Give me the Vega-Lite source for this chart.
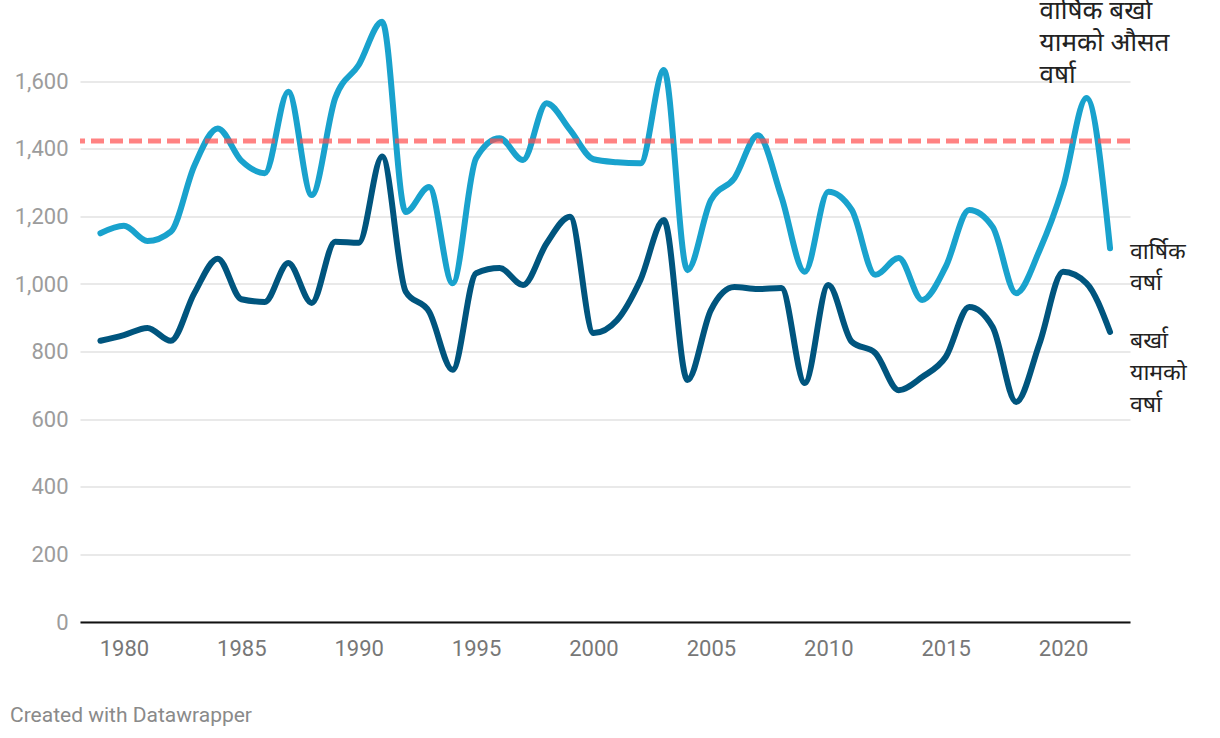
{
  "$schema": "https://vega.github.io/schema/vega-lite/v6.json",
  "width": 1050,
  "height": 608.4,
  "autosize": {"type": "none"},
  "padding": {"left": 80, "top": 13.6, "right": 90, "bottom": 116},
  "config": {"view": {"stroke": null}, "font": "Roboto"},
  "title": {
    "text": "Created with Datawrapper",
    "orient": "bottom",
    "anchor": "start",
    "frame": "group",
    "fontSize": 21,
    "fontWeight": "normal",
    "font": "Roboto",
    "color": "#8a8a8a",
    "offset": 46,
    "dx": -70
  },
  "datasets": {
    "rain": [
      {"year": 1979, "series": "वार्षिक वर्षा", "value": 1150}, {"year": 1979, "series": "बर्खा यामको वर्षा", "value": 832},
      {"year": 1980, "series": "वार्षिक वर्षा", "value": 1172}, {"year": 1980, "series": "बर्खा यामको वर्षा", "value": 849},
      {"year": 1981, "series": "वार्षिक वर्षा", "value": 1127}, {"year": 1981, "series": "बर्खा यामको वर्षा", "value": 870},
      {"year": 1982, "series": "वार्षिक वर्षा", "value": 1155}, {"year": 1982, "series": "बर्खा यामको वर्षा", "value": 832},
      {"year": 1983, "series": "वार्षिक वर्षा", "value": 1350}, {"year": 1983, "series": "बर्खा यामको वर्षा", "value": 973},
      {"year": 1984, "series": "वार्षिक वर्षा", "value": 1460}, {"year": 1984, "series": "बर्खा यामको वर्षा", "value": 1075},
      {"year": 1985, "series": "वार्षिक वर्षा", "value": 1365}, {"year": 1985, "series": "बर्खा यामको वर्षा", "value": 955},
      {"year": 1986, "series": "वार्षिक वर्षा", "value": 1328}, {"year": 1986, "series": "बर्खा यामको वर्षा", "value": 947},
      {"year": 1987, "series": "वार्षिक वर्षा", "value": 1569}, {"year": 1987, "series": "बर्खा यामको वर्षा", "value": 1062},
      {"year": 1988, "series": "वार्षिक वर्षा", "value": 1263}, {"year": 1988, "series": "बर्खा यामको वर्षा", "value": 944},
      {"year": 1989, "series": "वार्षिक वर्षा", "value": 1550}, {"year": 1989, "series": "बर्खा यामको वर्षा", "value": 1125},
      {"year": 1990, "series": "वार्षिक वर्षा", "value": 1648}, {"year": 1990, "series": "बर्खा यामको वर्षा", "value": 1122},
      {"year": 1991, "series": "वार्षिक वर्षा", "value": 1776}, {"year": 1991, "series": "बर्खा यामको वर्षा", "value": 1377},
      {"year": 1992, "series": "वार्षिक वर्षा", "value": 1213}, {"year": 1992, "series": "बर्खा यामको वर्षा", "value": 978},
      {"year": 1993, "series": "वार्षिक वर्षा", "value": 1287}, {"year": 1993, "series": "बर्खा यामको वर्षा", "value": 918},
      {"year": 1994, "series": "वार्षिक वर्षा", "value": 1002}, {"year": 1994, "series": "बर्खा यामको वर्षा", "value": 746},
      {"year": 1995, "series": "वार्षिक वर्षा", "value": 1372}, {"year": 1995, "series": "बर्खा यामको वर्षा", "value": 1032},
      {"year": 1996, "series": "वार्षिक वर्षा", "value": 1431}, {"year": 1996, "series": "बर्खा यामको वर्षा", "value": 1047},
      {"year": 1997, "series": "वार्षिक वर्षा", "value": 1367}, {"year": 1997, "series": "बर्खा यामको वर्षा", "value": 997},
      {"year": 1998, "series": "वार्षिक वर्षा", "value": 1535}, {"year": 1998, "series": "बर्खा यामको वर्षा", "value": 1120},
      {"year": 1999, "series": "वार्षिक वर्षा", "value": 1456}, {"year": 1999, "series": "बर्खा यामको वर्षा", "value": 1199},
      {"year": 2000, "series": "वार्षिक वर्षा", "value": 1369}, {"year": 2000, "series": "बर्खा यामको वर्षा", "value": 855},
      {"year": 2001, "series": "वार्षिक वर्षा", "value": 1360}, {"year": 2001, "series": "बर्खा यामको वर्षा", "value": 893},
      {"year": 2002, "series": "वार्षिक वर्षा", "value": 1357}, {"year": 2002, "series": "बर्खा यामको वर्षा", "value": 1012},
      {"year": 2003, "series": "वार्षिक वर्षा", "value": 1633}, {"year": 2003, "series": "बर्खा यामको वर्षा", "value": 1189},
      {"year": 2004, "series": "वार्षिक वर्षा", "value": 1041}, {"year": 2004, "series": "बर्खा यामको वर्षा", "value": 716},
      {"year": 2005, "series": "वार्षिक वर्षा", "value": 1248}, {"year": 2005, "series": "बर्खा यामको वर्षा", "value": 923},
      {"year": 2006, "series": "वार्षिक वर्षा", "value": 1313}, {"year": 2006, "series": "बर्खा यामको वर्षा", "value": 991},
      {"year": 2007, "series": "वार्षिक वर्षा", "value": 1440}, {"year": 2007, "series": "बर्खा यामको वर्षा", "value": 985},
      {"year": 2008, "series": "वार्षिक वर्षा", "value": 1259}, {"year": 2008, "series": "बर्खा यामको वर्षा", "value": 988},
      {"year": 2009, "series": "वार्षिक वर्षा", "value": 1036}, {"year": 2009, "series": "बर्खा यामको वर्षा", "value": 707},
      {"year": 2010, "series": "वार्षिक वर्षा", "value": 1273}, {"year": 2010, "series": "बर्खा यामको वर्षा", "value": 997},
      {"year": 2011, "series": "वार्षिक वर्षा", "value": 1219}, {"year": 2011, "series": "बर्खा यामको वर्षा", "value": 829},
      {"year": 2012, "series": "वार्षिक वर्षा", "value": 1027}, {"year": 2012, "series": "बर्खा यामको वर्षा", "value": 796},
      {"year": 2013, "series": "वार्षिक वर्षा", "value": 1077}, {"year": 2013, "series": "बर्खा यामको वर्षा", "value": 686},
      {"year": 2014, "series": "वार्षिक वर्षा", "value": 953}, {"year": 2014, "series": "बर्खा यामको वर्षा", "value": 725},
      {"year": 2015, "series": "वार्षिक वर्षा", "value": 1051}, {"year": 2015, "series": "बर्खा यामको वर्षा", "value": 784},
      {"year": 2016, "series": "वार्षिक वर्षा", "value": 1219}, {"year": 2016, "series": "बर्खा यामको वर्षा", "value": 932},
      {"year": 2017, "series": "वार्षिक वर्षा", "value": 1169}, {"year": 2017, "series": "बर्खा यामको वर्षा", "value": 873},
      {"year": 2018, "series": "वार्षिक वर्षा", "value": 973}, {"year": 2018, "series": "बर्खा यामको वर्षा", "value": 651},
      {"year": 2019, "series": "वार्षिक वर्षा", "value": 1100}, {"year": 2019, "series": "बर्खा यामको वर्षा", "value": 825},
      {"year": 2020, "series": "वार्षिक वर्षा", "value": 1288}, {"year": 2020, "series": "बर्खा यामको वर्षा", "value": 1036},
      {"year": 2021, "series": "वार्षिक वर्षा", "value": 1550}, {"year": 2021, "series": "बर्खा यामको वर्षा", "value": 1002},
      {"year": 2022, "series": "वार्षिक वर्षा", "value": 1106}, {"year": 2022, "series": "बर्खा यामको वर्षा", "value": 858}
    ],
    "avg": [
      {"year": 2019, "value": 1423, "label": "वार्षिक बर्खा\nयामको औसत\nवर्षा"}
    ]
  },
  "layer": [
    {
      "data": {"name": "rain"},
      "mark": {"type": "line", "interpolate": "monotone", "strokeWidth": 6, "strokeCap": "round", "strokeJoin": "round"},
      "encoding": {
        "x": {
          "field": "year", "type": "quantitative",
          "scale": {"domain": [1978.13, 2022.85], "nice": false, "zero": false},
          "axis": {
            "title": null, "values": [1980, 1985, 1990, 1995, 2000, 2005, 2010, 2015, 2020],
            "format": "d", "grid": false, "ticks": false, "domain": true,
            "domainColor": "#111111", "domainWidth": 2,
            "labelFont": "Roboto", "labelFontSize": 22, "labelColor": "#777777", "labelPadding": 16
          }
        },
        "y": {
          "field": "value", "type": "quantitative",
          "scale": {"domain": [0, 1800], "nice": false},
          "axis": {
            "title": null, "values": [0, 200, 400, 600, 800, 1000, 1200, 1400, 1600],
            "format": ",.0f", "grid": true, "gridColor": "#e2e2e2", "gridWidth": 1.5,
            "ticks": false, "domain": false,
            "labelFont": "Roboto", "labelFontSize": 22, "labelColor": "#9c9c9c", "labelPadding": 12
          }
        },
        "color": {
          "field": "series", "type": "nominal",
          "scale": {"domain": ["वार्षिक वर्षा", "बर्खा यामको वर्षा"], "range": ["#19a2cd", "#00557e"]},
          "legend": null
        },
        "detail": {"field": "series"}
      }
    },
    {
      "data": {"name": "avg"},
      "mark": {"type": "rule", "color": "#ff4d4d", "opacity": 0.7, "strokeWidth": 5, "strokeDash": [13, 6]},
      "encoding": {"y": {"field": "value", "type": "quantitative"}}
    },
    {
      "data": {"name": "avg"},
      "mark": {"type": "text", "align": "left", "baseline": "alphabetic", "dy": -122, "fontSize": 26, "lineHeight": 32, "lineBreak": "\n", "color": "#222222", "font": "Noto Sans"},
      "encoding": {
        "x": {"field": "year", "type": "quantitative"},
        "y": {"field": "value", "type": "quantitative"},
        "text": {"field": "label"}
      }
    },
    {
      "data": {"name": "rain"},
      "transform": [{"filter": "datum.year === 2022 && datum.series === 'वार्षिक वर्षा'"}],
      "mark": {"type": "text", "align": "left", "baseline": "alphabetic", "dx": 20, "dy": 11, "fontSize": 23, "lineHeight": 31, "lineBreak": " ", "color": "#222222", "font": "Noto Sans"},
      "encoding": {
        "x": {"field": "year", "type": "quantitative"},
        "y": {"field": "value", "type": "quantitative"},
        "text": {"field": "series"}
      }
    },
    {
      "data": {"name": "rain"},
      "transform": [{"filter": "datum.year === 2022 && datum.series === 'बर्खा यामको वर्षा'"}],
      "mark": {"type": "text", "align": "left", "baseline": "alphabetic", "dx": 20, "dy": 16, "fontSize": 23, "lineHeight": 32, "lineBreak": " ", "color": "#222222", "font": "Noto Sans"},
      "encoding": {
        "x": {"field": "year", "type": "quantitative"},
        "y": {"field": "value", "type": "quantitative"},
        "text": {"field": "series"}
      }
    }
  ]
}
